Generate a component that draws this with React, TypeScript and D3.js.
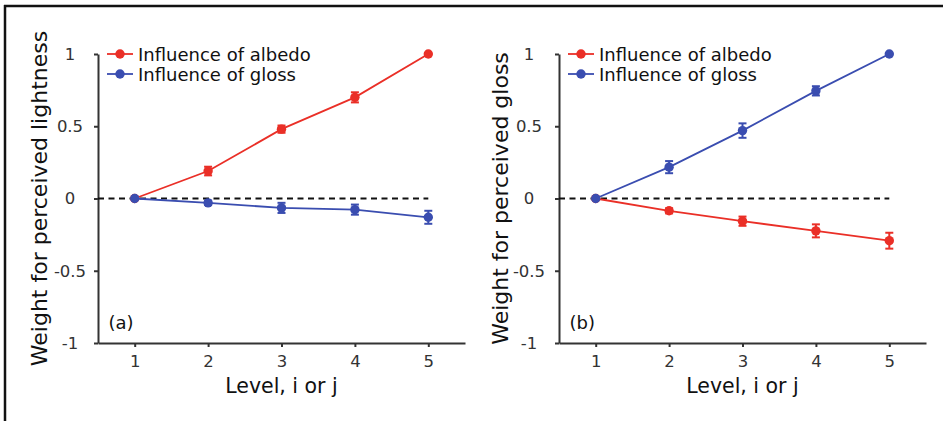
import * as React from "react";
import * as d3 from "d3";

// levels on the x axis
const levels = [1, 2, 3, 4, 5];
const yTicks = [-1, -0.5, 0, 0.5, 1];

// panel (a): weight for perceived lightness
const lightAlbedo = [0, 0.19, 0.48, 0.70, 1.0];
const lightAlbedoErr = [0, 0.03, 0.025, 0.035, 0];
const lightGloss = [0, -0.03, -0.065, -0.077, -0.13];
const lightGlossErr = [0, 0.015, 0.035, 0.035, 0.045];

// panel (b): weight for perceived gloss
const glossAlbedo = [0, -0.085, -0.157, -0.224, -0.292];
const glossAlbedoErr = [0, 0.018, 0.032, 0.045, 0.055];
const glossGloss = [0, 0.217, 0.47, 0.745, 1.0];
const glossGlossErr = [0, 0.042, 0.05, 0.032, 0];

const seriesNames = ["Influence of albedo", "Influence of gloss"];
const RED = "#ea2f27";
const BLUE = "#3a4db0";
const FONT = "DejaVu Sans, Verdana, sans-serif";

export default function App() {
  const ref = React.useRef<SVGSVGElement>(null);

  React.useEffect(() => {
    const svg = d3.select(ref.current);
    svg.selectAll("*").remove();

    // outer frame
    svg.append("line").attr("x1", 4).attr("x2", 943).attr("y1", 6).attr("y2", 6)
      .attr("stroke", "#111").attr("stroke-width", 2.5);
    svg.append("line").attr("x1", 5).attr("x2", 5).attr("y1", 5).attr("y2", 421)
      .attr("stroke", "#111").attr("stroke-width", 2.5);

    const panels = [
      { left: 98, label: "(a)", ylabel: "Weight for perceived lightness", ylabX: 47, tickOff: 28,
        series: [
          { v: lightAlbedo, e: lightAlbedoErr, c: RED },
          { v: lightGloss, e: lightGlossErr, c: BLUE },
        ] },
      { left: 559, label: "(b)", ylabel: "Weight for perceived gloss", ylabX: 508, tickOff: 30,
        series: [
          { v: glossAlbedo, e: glossAlbedoErr, c: RED },
          { v: glossGloss, e: glossGlossErr, c: BLUE },
        ] },
    ];

    const y = d3.scaleLinear().domain([-1, 1]).range([343, 54]);

    panels.forEach((p) => {
      const x = d3.scaleLinear().domain([0.5, 5.5]).range([p.left, p.left + 367]);
      const g = svg.append("g");

      // axes
      const ya = g.append("g").attr("transform", `translate(${p.left},0)`)
        .call(d3.axisLeft(y).tickValues(yTicks).tickSize(4).tickSizeOuter(0)
          .tickFormat((d: any) => String(d)));
      const xa = g.append("g").attr("transform", `translate(0,${y(-1)})`)
        .call(d3.axisBottom(x).tickValues(levels).tickSize(4).tickSizeOuter(0)
          .tickFormat((d: any) => String(d)));
      [ya, xa].forEach((a) => {
        a.select(".domain").attr("stroke", "#333").attr("stroke-width", 2);
        a.selectAll(".tick line").attr("stroke", "#333").attr("stroke-width", 2);
        a.selectAll("text").attr("fill", "#333").attr("font-size", 16.5).attr("font-family", FONT);
      });
      ya.selectAll("text").attr("text-anchor", "middle").attr("x", -p.tickOff);
      xa.selectAll("text").attr("y", 24).attr("dy", 0);

      // zero reference line
      g.append("line").attr("x1", x(0.5)).attr("x2", x(5)).attr("y1", y(0)).attr("y2", y(0))
        .attr("stroke", "#111").attr("stroke-width", 2).attr("stroke-dasharray", "6,4.5");

      // series
      const line = d3.line<number>().x((_d, i) => x(levels[i])).y((d) => y(d));
      p.series.forEach((s) => {
        g.append("path").datum(s.v).attr("d", line).attr("fill", "none")
          .attr("stroke", s.c).attr("stroke-width", 1.8);
        s.v.forEach((v, i) => {
          const cx = x(levels[i]);
          if (s.e[i] > 0) {
            const y1 = y(v - s.e[i]);
            const y2 = y(v + s.e[i]);
            g.append("line").attr("x1", cx).attr("x2", cx).attr("y1", y1).attr("y2", y2)
              .attr("stroke", s.c).attr("stroke-width", 2);
            [y1, y2].forEach((yy) =>
              g.append("line").attr("x1", cx - 4).attr("x2", cx + 4).attr("y1", yy).attr("y2", yy)
                .attr("stroke", s.c).attr("stroke-width", 2));
          }
          g.append("circle").attr("cx", cx).attr("cy", y(v)).attr("r", 4.7).attr("fill", s.c);
        });
      });

      // legend
      seriesNames.forEach((name, i) => {
        const ly = 54 + i * 20;
        const c = p.series[i].c;
        g.append("line").attr("x1", p.left + 9).attr("x2", p.left + 35).attr("y1", ly).attr("y2", ly)
          .attr("stroke", c).attr("stroke-width", 1.8);
        g.append("circle").attr("cx", p.left + 22).attr("cy", ly).attr("r", 4.7).attr("fill", c);
        g.append("text").attr("x", p.left + 40).attr("y", ly + 6.5).text(name)
          .attr("font-family", FONT).attr("font-size", 18).attr("fill", "#111");
      });

      // panel tag
      g.append("text").attr("x", p.left + 10.5).attr("y", 329).text(p.label)
        .attr("font-family", FONT).attr("font-size", 18).attr("fill", "#111");

      // axis titles
      g.append("text").attr("x", (p.left + p.left + 367) / 2).attr("y", 393)
        .attr("text-anchor", "middle").text("Level, i or j")
        .attr("font-family", FONT).attr("font-size", 20.5).attr("fill", "#111");
      g.append("text").attr("transform", `translate(${p.ylabX},${(y(-1) + y(1)) / 2}) rotate(-90)`)
        .attr("text-anchor", "middle").text(p.ylabel)
        .attr("font-family", FONT).attr("font-size", 22).attr("fill", "#111");
    });
  }, []);

  return (
    <svg ref={ref} width={943} height={421}
      style={{ position: "absolute", left: 0, top: 0, background: "#fff" }} />
  );
}
